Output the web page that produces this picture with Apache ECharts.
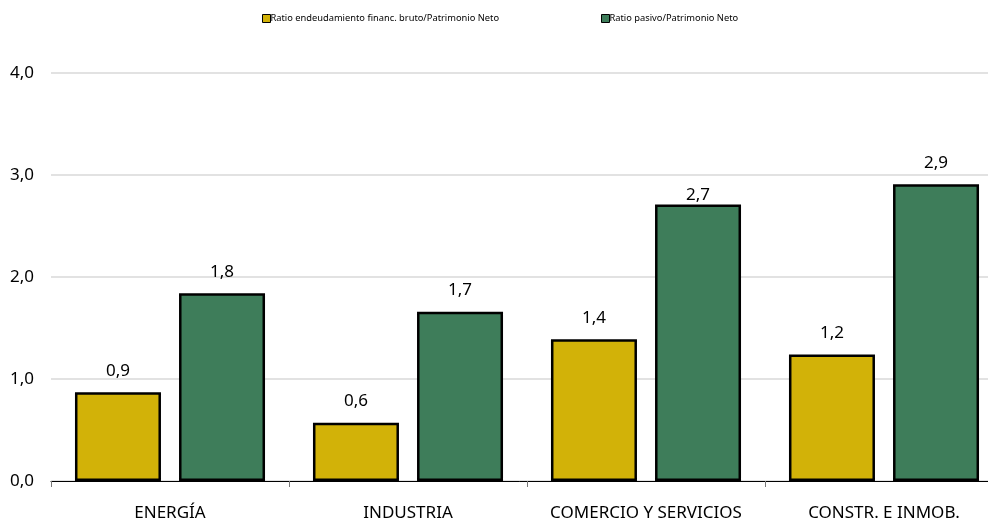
<!DOCTYPE html>
<html><head><meta charset="utf-8">
<script src="https://cdn.jsdelivr.net/npm/echarts@6/dist/echarts.min.js"></script>
<style>html,body{margin:0;padding:0;background:#fff}#c{width:988px;height:525px}</style>
</head><body><div id="c"></div>
<script>
const categories = ['ENERGÍA', 'INDUSTRIA', 'COMERCIO Y SERVICIOS', 'CONSTR. E INMOB.'];
const seriesNames = ['Ratio endeudamiento financ. bruto/Patrimonio Neto', 'Ratio pasivo/Patrimonio Neto'];
const ratioDeuda = [0.87, 0.57, 1.39, 1.24];
const ratioPasivo = [1.84, 1.66, 2.71, 2.91];
const yTicks = [0, 1, 2, 3, 4];

const FONT = '"Noto Sans", sans-serif';
const fmt = v => (Math.round(v * 10) / 10).toFixed(1).replace('.', ',');
const chart = echarts.init(document.getElementById('c'));
function mk(vals, tightIdx) {
  return vals.map((v, i) => i === tightIdx ? { value: v, label: { distance: 1 } } : v);
}
const legendBase = {
  top: 9, itemWidth: 8, itemHeight: 8, icon: 'rect',
  textStyle: { fontSize: 9.3, color: '#000', fontFamily: FONT, padding: [0, 0, 0, -5] },
  itemStyle: { borderColor: '#000', borderWidth: 1 }
};
chart.setOption({
  animation: false,
  textStyle: { fontFamily: FONT },
  legend: [
    Object.assign({}, legendBase, { left: 257, data: [seriesNames[0]] }),
    Object.assign({}, legendBase, { left: 596, data: [seriesNames[1]] })
  ],
  grid: { left: 51, width: 952, top: 73, bottom: 44, containLabel: false, outerBoundsMode: 'none' },
  xAxis: {
    type: 'category', data: categories,
    axisLine: { lineStyle: { color: '#000', width: 1 } },
    axisTick: { show: true, length: 6, lineStyle: { color: '#777' } },
    axisLabel: { fontSize: 17, color: '#000', margin: 24, fontFamily: FONT, interval: 0, hideOverlap: false }
  },
  yAxis: {
    type: 'value', min: yTicks[0], max: yTicks[yTicks.length - 1], interval: 1,
    axisLine: { show: false }, axisTick: { show: false },
    splitLine: { lineStyle: { color: '#d9d9d9', width: 1.5 } },
    axisLabel: { fontSize: 17, color: '#000', margin: 17, fontFamily: FONT, formatter: fmt }
  },
  series: [
    {
      name: seriesNames[0], type: 'bar', data: mk(ratioDeuda, -1),
      barWidth: 86, barGap: '21%',
      itemStyle: { color: '#d2b208', borderColor: '#000', borderWidth: 2.5 },
      label: { show: true, position: 'top', distance: 13, fontSize: 17, color: '#000', fontFamily: FONT, formatter: p => fmt(p.value) }
    },
    {
      name: seriesNames[1], type: 'bar', data: mk(ratioPasivo, 2),
      barWidth: 86,
      itemStyle: { color: '#3e7d5a', borderColor: '#000', borderWidth: 2.5 },
      label: { show: true, position: 'top', distance: 13, fontSize: 17, color: '#000', fontFamily: FONT, formatter: p => fmt(p.value) }
    }
  ]
});
</script></body></html>
